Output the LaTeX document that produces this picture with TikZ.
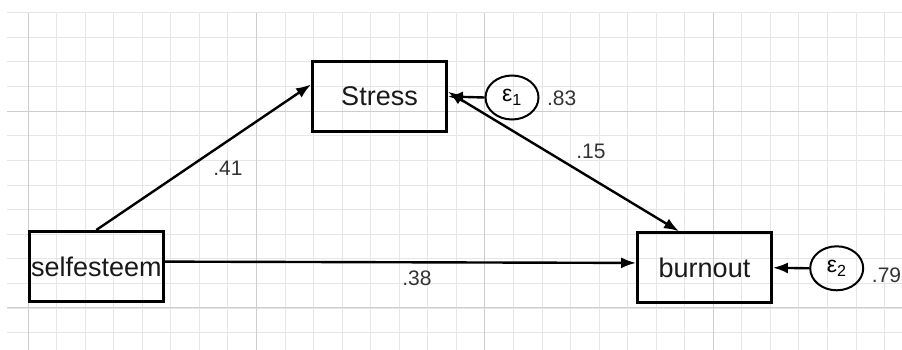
\documentclass[tikz,border=0pt]{standalone}
\usepackage{fontspec}
\setmainfont{Liberation Sans}
\usetikzlibrary{arrows.meta,shapes.geometric}
\definecolor{gridminor}{HTML}{E6E6E6}
\definecolor{gridmajor}{HTML}{CDCDCD}
\definecolor{coeftext}{HTML}{333333}

\begin{document}
\begin{tikzpicture}[x=1pt,y=-1pt,
  var/.style={draw,line width=2.8pt,minimum width=134pt,minimum height=70pt,inner sep=0pt,text=black!90,font=\fontsize{27}{30}\selectfont},
  err/.style={draw,ellipse,line width=2pt,minimum width=53pt,minimum height=44pt,inner sep=0pt,font=\fontsize{23}{25}\selectfont},
  coef/.style={text=coeftext,inner sep=0pt,font=\fontsize{21}{24}\selectfont},
  effect/.style={line width=2.4pt,>={Latex[length=15pt,width=11pt]}}]
\useasboundingbox (0,0) rectangle (902,350);
\foreach \k in {0,...,30}
  \draw[gridminor,line width=0.8pt] ({28+28.55*\k},12.7) -- ({28+28.55*\k},350);
\foreach \k in {0,...,13}
  \draw[gridminor,line width=0.8pt] (7,{12.7+24.6*\k}) -- (902,{12.7+24.6*\k});
\foreach \k in {0,8,16,24}
  \draw[gridmajor,line width=0.9pt] ({28+28.55*\k},12.7) -- ({28+28.55*\k},350);
\foreach \k in {4,12}
  \draw[gridmajor,line width=0.9pt] (7,{12.7+24.6*\k}) -- (902,{12.7+24.6*\k});

\node[var] (Stress) at (379.5,96.5) {Stress};
\node[var] (selfesteem) at (96.3,266.4) {selfesteem};
\node[var] (burnout) at (704.5,267.7) {burnout};
\node[err] (e1) at (512,97.5) {ε\textsubscript{1}};
\node[err] (e2) at (836.7,268.3) {ε\textsubscript{2}};

\node[coef] (c41) at (228,168) {.41};
\node[coef] (c15) at (591,151) {.15};
\node[coef] (c38) at (417,278) {.38};
\node[coef] (c83) at (561.7,98) {.83};
\node[coef] (c79) at (886.5,275) {.79};

\draw[effect,->] (selfesteem.north) -- (Stress.170);
\draw[effect,<->] (Stress.4) -- (burnout.125);
\draw[effect,->] (selfesteem.4) -- (burnout.176);
\draw[effect,->] (e1.west) -- (Stress.east);
\draw[effect,->] (e2.west) -- (burnout.east);
\end{tikzpicture}
\end{document}
